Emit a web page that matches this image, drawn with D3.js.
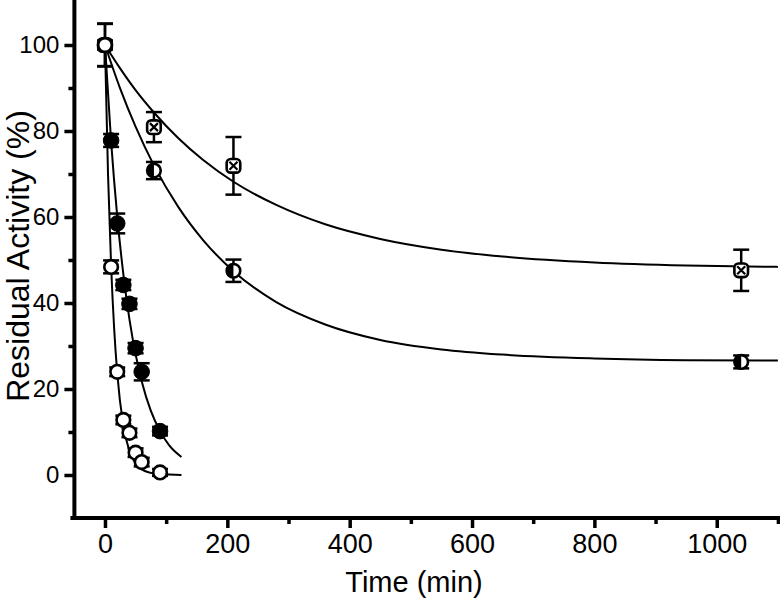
<!DOCTYPE html>
<html>
<head>
<meta charset="utf-8">
<script src="https://cdn.jsdelivr.net/npm/d3@7"></script>
<style>
  html, body { margin: 0; padding: 0; background: #fff; }
  svg { display: block; }
  text { font-family: Arial, "Liberation Sans", sans-serif; fill: #000; }
</style>
</head>
<body>
<svg id="chart" width="780" height="601"></svg>
<script>
// ---------- data ----------
const xTicks = [0, 200, 400, 600, 800, 1000];
const xMinorTicks = [100, 300, 500, 700, 900, 1100];
const yTicks = [0, 20, 40, 60, 80, 100];
const yMinorTicks = [10, 30, 50, 70, 90];

// open circles (fast decay)
const openT = [0, 10, 20, 30, 40, 50, 60, 90];
const openY = [100, 48.4, 24.0, 12.8, 9.8, 5.2, 3.0, 0.6];
const openErr = [5, 1.5, 1, 1, 1, 1, 1, 0.8];

// filled circles
const fillT = [0, 10, 20, 30, 40, 50, 60, 90];
const fillY = [100, 77.8, 58.5, 44.2, 39.8, 29.5, 24.0, 10.2];
const fillErr = [1, 1.5, 2.3, 1.2, 1.2, 1.2, 2.0, 1.0];

// half-filled circles
const halfT = [0, 80, 210, 1040];
const halfY = [100, 70.8, 47.5, 26.3];
const halfErr = [1, 2.0, 2.6, 1.5];

// crossed squares
const crossT = [0, 80, 210, 1040];
const crossY = [100, 80.9, 71.9, 47.6];
const crossErr = [4.9, 3.5, 6.7, 4.8];

// fitted curves
const openFitT = [0, 5, 10, 15, 20, 30, 40, 50, 60, 75, 90, 105, 125];
const openFitY = [100, 69.8, 48.7, 34.0, 23.7, 11.5, 5.6, 2.7, 1.3, 0.5, 0.2, 0.1, 0.0];
const fillFitT = [0, 10, 20, 30, 40, 50, 60, 75, 90, 105, 125];
const fillFitY = [100, 77.6, 60.2, 46.7, 36.2, 28.1, 21.8, 14.9, 10.2, 6.9, 4.2];
const halfFitT = [0, 25, 50, 80, 120, 160, 210, 280, 360, 450, 550, 650, 800, 950, 1100];
const halfFitY = [100, 89.8, 81.0, 72.0, 62.3, 54.7, 47.4, 40.2, 35.0, 31.4, 29.2, 28.0, 27.1, 26.7, 26.6];
const crossFitT = [0, 25, 50, 80, 120, 160, 210, 280, 360, 450, 550, 650, 800, 950, 1100];
const crossFitY = [100, 94.5, 89.5, 84.3, 78.3, 73.3, 68.2, 62.8, 58.3, 54.9, 52.4, 50.8, 49.4, 48.7, 48.4];

// ---------- chart ----------
const svg = d3.select("#chart");
const x = d3.scaleLinear().domain([-50, 1100]).range([74.4, 777.9]);
const y = d3.scaleLinear().domain([-10, 110]).range([518, 2]);

const zip = (a, b) => a.map((v, i) => [v, b[i]]);
const line = d3.line().x(d => x(d[0])).y(d => y(d[1])).curve(d3.curveMonotoneX);

const gCurves = svg.append("g");
[[openFitT, openFitY], [fillFitT, fillFitY], [halfFitT, halfFitY], [crossFitT, crossFitY]].forEach(([t, v]) => {
  gCurves.append("path").attr("d", line(zip(t, v)))
    .attr("fill", "none").attr("stroke", "#000").attr("stroke-width", 2);
});

// axes
const xAxis = svg.append("g").attr("transform", `translate(0,${y(-10)})`)
  .call(d3.axisBottom(x).tickValues(xTicks).tickSize(10).tickPadding(6).tickFormat(d3.format("d")));
svg.append("g").attr("transform", `translate(0,${y(-10)})`)
  .call(d3.axisBottom(x).tickValues(xMinorTicks).tickSize(6).tickFormat(""))
  .call(g => g.select(".domain").remove());
const yAxis = svg.append("g").attr("transform", `translate(${x(-50)},0)`)
  .call(d3.axisLeft(y).tickValues(yTicks).tickSize(10).tickPadding(5).tickFormat(d3.format("d")));
svg.append("g").attr("transform", `translate(${x(-50)},0)`)
  .call(d3.axisLeft(y).tickValues(yMinorTicks).tickSize(6).tickFormat(""))
  .call(g => g.select(".domain").remove());

svg.selectAll(".domain").attr("stroke", "#000").attr("stroke-width", 4);
svg.selectAll(".tick line").attr("stroke", "#000").attr("stroke-width", 3.5);
xAxis.selectAll(".tick text").attr("font-size", 27);
yAxis.selectAll(".tick text").attr("font-size", 24);
// extend axis lines to the corners
xAxis.select(".domain").attr("d", `M${x(-50) - 4},0H780`);
yAxis.select(".domain").attr("d", `M0,${y(-10) + 2}V0`);

// axis titles
svg.append("text").attr("x", 414).attr("y", 592).attr("text-anchor", "middle")
  .attr("font-size", 29).text("Time (min)");
svg.append("text").attr("transform", `translate(29,256) rotate(-90)`).attr("text-anchor", "middle")
  .attr("font-size", 32).text("Residual Activity (%)");

// error bars
function errorBars(t, v, e) {
  const g = svg.append("g").attr("stroke", "#000").attr("stroke-width", 2.5);
  t.forEach((ti, i) => {
    const cx = x(ti), y1 = y(v[i] + e[i]), y2 = y(v[i] - e[i]);
    g.append("line").attr("x1", cx).attr("x2", cx).attr("y1", y1).attr("y2", y2);
    g.append("line").attr("x1", cx - 8).attr("x2", cx + 8).attr("y1", y1).attr("y2", y1);
    g.append("line").attr("x1", cx - 8).attr("x2", cx + 8).attr("y1", y2).attr("y2", y2);
  });
}
errorBars(crossT, crossY, crossErr);
errorBars(halfT, halfY, halfErr);
errorBars(fillT, fillY, fillErr);
errorBars(openT, openY, openErr);

const R = 6.8;
// crossed squares
crossT.forEach((t, i) => {
  const cx = x(t), cy = y(crossY[i]);
  const g = svg.append("g").attr("stroke", "#000").attr("stroke-width", 2.6);
  g.append("rect").attr("x", cx - R).attr("y", cy - R).attr("width", 2 * R).attr("height", 2 * R)
    .attr("rx", 4).attr("fill", "#fff");
  g.append("path").attr("d", `M${cx - 4},${cy - 4}L${cx + 4},${cy + 4}M${cx + 4},${cy - 4}L${cx - 4},${cy + 4}`)
    .attr("stroke-width", 2.2);
});
// half-filled circles
halfT.forEach((t, i) => {
  const cx = x(t), cy = y(halfY[i]);
  svg.append("circle").attr("cx", cx).attr("cy", cy).attr("r", R)
    .attr("fill", "#fff").attr("stroke", "#000").attr("stroke-width", 2.6);
  svg.append("path").attr("d", `M${cx},${cy - R}A${R},${R} 0 0 0 ${cx},${cy + R}Z`).attr("fill", "#000");
});
// filled circles
svg.append("g").selectAll("circle").data(zip(fillT, fillY)).join("circle")
  .attr("cx", d => x(d[0])).attr("cy", d => y(d[1])).attr("r", R + 1)
  .attr("fill", "#000").attr("stroke", "#000").attr("stroke-width", 1);
// open circles
svg.append("g").selectAll("circle").data(zip(openT, openY)).join("circle")
  .attr("cx", d => x(d[0])).attr("cy", d => y(d[1])).attr("r", R)
  .attr("fill", "#fff").attr("stroke", "#000").attr("stroke-width", 2.6);
</script>
</body>
</html>
